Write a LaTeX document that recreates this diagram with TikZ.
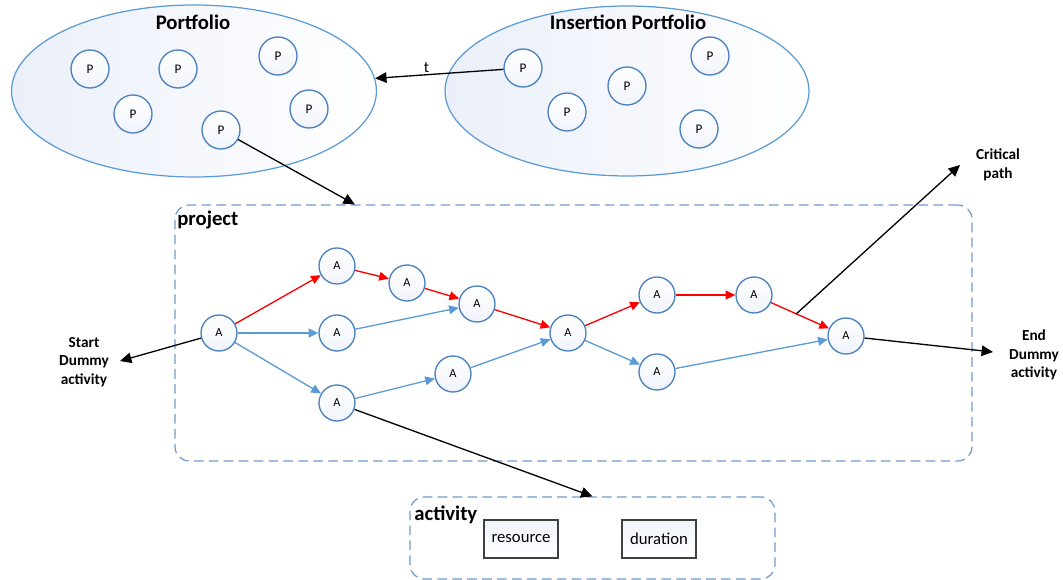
\documentclass[tikz,border=0pt]{standalone}
\usepackage{fontspec}
\setmainfont{Carlito}
\usepackage{tikz}
\usetikzlibrary{positioning, shapes.geometric, arrows.meta, calc}
\definecolor{officeBlue}{RGB}{91,155,213}
\definecolor{circleBlue}{RGB}{72,128,192}
\definecolor{dashBlue}{RGB}{110,155,205}
\definecolor{ellipseFill}{RGB}{234,239,249}
\definecolor{circleFill}{RGB}{240,244,251}
\definecolor{boxGray}{RGB}{64,64,64}
\tikzstyle{diagram} = [x = 0.02cm, y = -0.02cm]
\tikzstyle{setStyle} = [ellipse, draw=officeBlue, line width=0.7pt, left color=ellipseFill, right color=white, inner sep=0pt]
\tikzstyle{setTitle} = [font=\fontsize{11.8}{13}\selectfont\bfseries]
\tikzstyle{sideText} = [font=\fontsize{8.7}{10.5}\selectfont\bfseries, align=center]
\tikzstyle{circleStyle} = [circle, draw=circleBlue, line width=0.75pt, top color=white, bottom color=circleFill, inner sep=0pt]
\tikzstyle{activityStyle} = [circleStyle, minimum size=0.72cm, font=\fontsize{7}{8}\selectfont]
\tikzstyle{portfolioStyle} = [circleStyle, minimum size=0.76cm, font=\fontsize{7.5}{8}\selectfont]
\tikzstyle{criticalLine} = [red, line width=0.75pt, -{Triangle[length=5.5pt, width=5pt]}]
\tikzstyle{normalLine} = [officeBlue, line width=0.75pt, -{Triangle[length=5.5pt, width=5pt]}]
\tikzstyle{blackLine} = [black, line width=0.75pt, -{Triangle[length=6.5pt, width=6pt]}]
\tikzstyle{dashedBox} = [draw=dashBlue, line width=0.7pt, dash pattern=on 5.5pt off 3pt, rounded corners=0.28cm]
\tikzstyle{attributeBox} = [draw=boxGray, line width=0.6pt, top color=circleFill, bottom color=white, minimum width=1.48cm, minimum height=0.76cm, font=\fontsize{9.5}{11}\selectfont]
\newcommand{\activityNode}[3]{\node [activityStyle] (#1) at (#2, #3) {A};}
\newcommand{\portfolioNode}[3]{\node [portfolioStyle] (#1) at (#2, #3) {P};}

\begin{document}
\begin{tikzpicture}[diagram]
  \useasboundingbox (0,0) rectangle (1063,580);
  % portfolios
  \node [setStyle, minimum width=7.3cm, minimum height=3.44cm] (portfolio) at (194, 91) {};
  \node [setStyle, minimum width=7.28cm, minimum height=3.4cm] (insertion) at (627, 91) {};
  \node [setTitle] (portfolioTitle) at (193, 22) {Portfolio};
  \node [setTitle] (insertionTitle) at (628, 22) {Insertion Portfolio};
  \portfolioNode{p1}{90}{69}
  \portfolioNode{p2}{178}{69}
  \portfolioNode{p3}{278}{56}
  \portfolioNode{p4}{133}{114}
  \portfolioNode{p5}{221}{130}
  \portfolioNode{p6}{309}{109}
  \portfolioNode{q1}{523}{68}
  \portfolioNode{q2}{567}{112}
  \portfolioNode{q3}{627}{86}
  \portfolioNode{q4}{710}{56}
  \portfolioNode{q5}{699}{129}
  \draw [blackLine] (q1) -- node [pos=0.6, above, inner sep=1pt, font=\fontsize{9}{10}\selectfont] {t} (portfolio);
  % project network
  \node [dashedBox, minimum width=15.94cm, minimum height=5.12cm] (projectBox) at (573.5, 333) {};
  \node [setTitle, anchor=west, inner sep=0pt] (projectTitle) at (177, 220) {project};
  \coordinate (projectTop) at ($(projectBox.north west)!0.226!(projectBox.north east)$);
  \draw [blackLine] (p5) -- (projectTop);
  \activityNode{act0}{219}{333}
  \activityNode{act1}{337}{266}
  \activityNode{act2}{407}{283}
  \activityNode{act3}{477}{304}
  \activityNode{act4}{337}{333}
  \activityNode{act5}{453}{374}
  \activityNode{act6}{337}{403}
  \activityNode{act7}{568}{333}
  \activityNode{act8}{657}{295}
  \activityNode{act9}{754}{295}
  \activityNode{act10}{657}{372}
  \activityNode{act11}{846}{336}
  \foreach \from/\to in {act0/act1, act1/act2, act2/act3, act3/act7, act7/act8, act8/act9, act9/act11}
    \draw [criticalLine] (\from) -- (\to);
  \foreach \from/\to in {act0/act4, act4/act3, act0/act6, act6/act5, act5/act7, act7/act10, act10/act11}
    \draw [normalLine] (\from) -- (\to);
  % dummy activities and critical path
  \coordinate (startTip) at (120, 361);
  \coordinate (endTip) at (993, 352);
  \coordinate (criticalStart) at ($(act9)!0.46!(act11)$);
  \coordinate (criticalTip) at (960, 165);
  \node [sideText] (startLabel) at (84, 362) {Start\\Dummy\\activity};
  \node [sideText] (endLabel) at (1034, 355) {End\\Dummy\\activity};
  \node [sideText] (criticalLabel) at (998, 165) {Critical\\path};
  \draw [blackLine] (act0) -- (startTip);
  \draw [blackLine] (act11) -- (endTip);
  \draw [blackLine] (criticalStart) -- (criticalTip);
  % activity
  \node [dashedBox, minimum width=7.3cm, minimum height=1.64cm] (activityBox) at (592.5, 538) {};
  \node [setTitle, anchor=west, inner sep=0pt] (activityTitle) at (414, 515) {activity};
  \node [attributeBox] (resource) at (521, 539) {resource};
  \node [attributeBox] (duration) at (659, 539) {duration};
  \draw [blackLine] (act6) -- (activityBox.north);
\end{tikzpicture}
\end{document}
